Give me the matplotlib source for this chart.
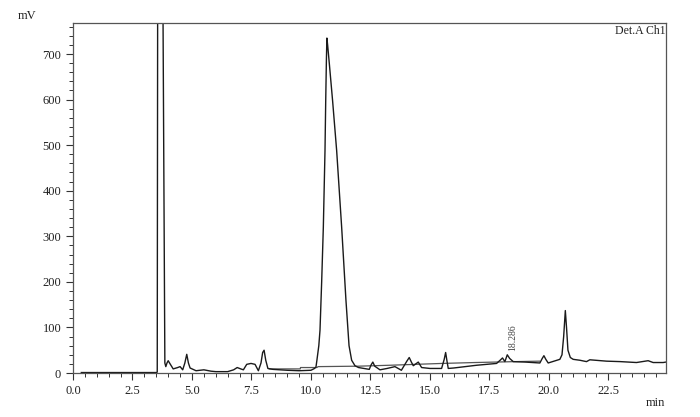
import matplotlib
matplotlib.use("Agg")
import matplotlib.pyplot as plt
from matplotlib.ticker import MultipleLocator, FormatStrFormatter

plt.rcParams['font.family'] = ['Liberation Serif', 'DejaVu Serif']

# chromatogram signal (min, mV)
sig_t = [0.35, 3.50, 3.54, 3.57, 3.72, 3.86, 3.90, 3.95, 4.00, 4.08, 4.21, 4.40,
         4.50, 4.61, 4.70, 4.78, 4.85, 4.92, 5.17, 5.50, 5.80, 6.00, 6.50, 6.75,
         6.90, 7.05, 7.16, 7.30, 7.48, 7.65, 7.79, 7.90, 7.97, 8.03, 8.10, 8.19,
         8.40, 9.00, 9.50, 10.00, 10.15, 10.21, 10.25, 10.33, 10.38, 10.45, 10.52,
         10.59, 10.62, 10.65, 10.67, 10.70, 10.77, 10.91, 11.08, 11.29, 11.47,
         11.60, 11.71, 11.85, 12.00, 12.45, 12.53, 12.60, 12.68, 12.90, 13.20,
         13.53, 13.80, 14.03, 14.13, 14.22, 14.30, 14.51, 14.65, 15.00, 15.49,
         15.60, 15.66, 15.72, 15.77, 16.00, 16.96, 17.80, 17.95, 18.05, 18.15,
         18.25, 18.35, 18.50, 19.00, 19.62, 19.72, 19.79, 19.87, 19.97, 20.46,
         20.55, 20.62, 20.69, 20.74, 20.80, 20.90, 21.02, 21.30, 21.58, 21.72,
         22.42, 23.00, 23.68, 24.17, 24.38, 24.80, 24.92]
sig_v = [1, 1, 2, 1400, 1400, 22, 14, 22, 27, 20, 9, 12,
         14, 7, 22, 41, 22, 11, 5, 7, 4, 3, 3, 7,
         12, 9, 7, 19, 21, 19, 5, 22, 45, 50, 28, 10,
         8, 6, 5, 6, 10, 13, 28, 60, 94, 200, 320,
         488, 597, 690, 735, 720, 680, 597, 488, 320, 160,
         60, 28, 16, 12, 8, 18, 24, 15, 7, 10,
         14, 6, 26, 34, 24, 16, 24, 12, 10, 10,
         30, 45, 25, 10, 11, 17, 21, 28, 33, 25,
         40, 32, 25, 24, 22, 32, 38, 30, 22, 30,
         40, 80, 137, 100, 50, 34, 30, 28, 25, 29,
         26, 25, 23, 27, 23, 23, 24]

# integration baseline
base_t = [8.25, 9.55, 9.56, 10.25, 10.30, 12.00, 13.30, 15.50, 16.90, 18.60, 19.60]
base_v = [9, 9, 12, 12, 14, 15, 17, 21, 23, 25, 26]

peak_label = "18.286"
peak_label_pos = (18.49, 48)

x_ticks = [0.0, 2.5, 5.0, 7.5, 10.0, 12.5, 15.0, 17.5, 20.0, 22.5]
y_ticks = [0, 100, 200, 300, 400, 500, 600, 700]

fig = plt.figure(figsize=(7, 4.17), dpi=100)
ax = fig.add_axes([0.1043, 0.1055, 0.8471, 0.8393])

ax.plot(base_t, base_v, color='#555555', lw=0.9)
ax.plot(sig_t, sig_v, color='#1a1a1a', lw=1.0)

ax.set_xlim(0, 24.92)
ax.set_ylim(0, 768)
ax.set_xticks(x_ticks)
ax.set_yticks(y_ticks)
ax.xaxis.set_major_formatter(FormatStrFormatter('%.1f'))
ax.xaxis.set_minor_locator(MultipleLocator(0.5))
ax.yaxis.set_minor_locator(MultipleLocator(20))
ax.tick_params(which='major', direction='out', length=5, width=0.8,
               labelsize=9, color='#333333', labelcolor='#222222')
ax.tick_params(which='minor', direction='out', length=3, width=0.7, color='#333333')
for s in ax.spines.values():
    s.set_color('#555555')
    s.set_linewidth(0.9)

ax.text(*peak_label_pos, peak_label, rotation=90, ha='center', va='bottom',
        fontsize=7, color='#444444')
ax.text(0.999, 0.995, "Det.A Ch1", transform=ax.transAxes, ha='right', va='top',
        fontsize=8.5, color='#222222')
fig.text(18 / 700, 1 - 16 / 417, "mV", ha='left', va='center', fontsize=9, color='#222222')
fig.text(665 / 700, 1 - 403 / 417, "min", ha='right', va='center', fontsize=9, color='#222222')

fig.savefig("out.png", dpi=100)
